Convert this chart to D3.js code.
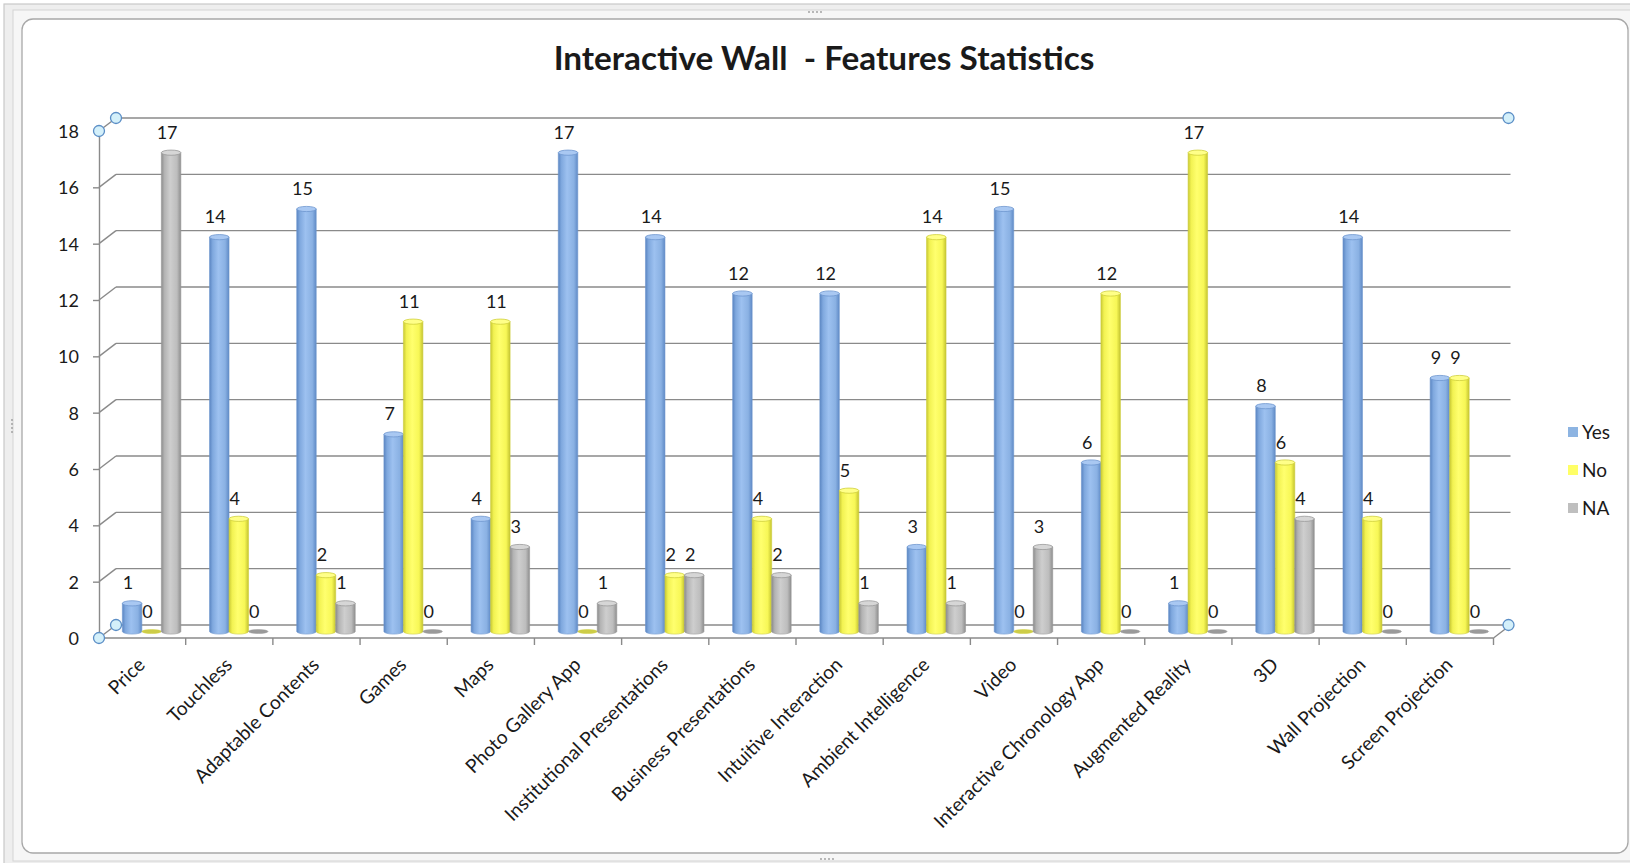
<!DOCTYPE html>
<html>
<head>
<meta charset="utf-8">
<script src="https://cdn.jsdelivr.net/npm/d3@7"></script>
<style>
  html, body { margin: 0; padding: 0; background: #ffffff; }
  svg { display: block; }
  text { font-family: Lato, "Open Sans", sans-serif; fill: #1a1a1a; }
</style>
</head>
<body>
<svg id="chart" width="1630" height="863"></svg>
<script>
// Feature survey results: number of answers per feature
const categories = [
  "Price", "Touchless", "Adaptable Contents", "Games", "Maps", "Photo Gallery App",
  "Institutional Presentations", "Business Presentations", "Intuitive Interaction",
  "Ambient Intelligence", "Video", "Interactive Chronology App", "Augmented Reality",
  "3D", "Wall Projection", "Screen Projection"
];
const yesValues = [1, 14, 15, 7, 4, 17, 14, 12, 12, 3, 15, 6, 1, 8, 14, 9];
const noValues  = [0, 4, 2, 11, 11, 0, 2, 4, 5, 14, 0, 12, 17, 6, 4, 9];
const naValues  = [17, 0, 1, 0, 3, 1, 2, 2, 1, 1, 3, 0, 0, 4, 0, 0];
const seriesNames = ["Yes", "No", "NA"];
const yTicks = [0, 2, 4, 6, 8, 10, 12, 14, 16, 18];
const titleText = "Interactive Wall  - Features Statistics";

const series = [
  { name: "Yes", values: yesValues, id: "blue",
    stops: ["#5a85c2", "#7fa8de", "#9dc1f0", "#8ab1e3", "#5f8ac6"], cap: "#a9c8f2", capStroke: "#6f97cf", flat: "#7199d0", key: "#8db4e2" },
  { name: "No", values: noValues, id: "yellow",
    stops: ["#c9c935", "#f2f252", "#ffff6e", "#f7f756", "#c4c430"], cap: "#ffff88", capStroke: "#cfcf3c", flat: "#cdcd48", key: "#ffff66" },
  { name: "NA", values: naValues, id: "gray",
    stops: ["#8c8c8c", "#b3b3b3", "#cecece", "#bdbdbd", "#8e8e8e"], cap: "#d6d6d6", capStroke: "#999999", flat: "#9a9a9a", key: "#bfbfbf" }
];

const svg = d3.select("#chart");

// ---- chart frame ----
svg.append("rect").attr("x", 4).attr("y", 4).attr("width", 1630).attr("height", 866)
  .attr("fill", "#eeeeee").attr("stroke", "#c9c9c9").attr("stroke-width", 1.2);
svg.append("rect").attr("x", 13).attr("y", 10).attr("width", 1630).attr("height", 851)
  .attr("fill", "#f6f6f6").attr("stroke", "#d4d4d4");
svg.append("rect").attr("x", 22).attr("y", 19).attr("width", 1606).attr("height", 834)
  .attr("rx", 11).attr("fill", "#ffffff").attr("stroke", "#a8a8a8").attr("stroke-width", 1.3);

// grip dots on the frame
function grip(cx, cy, vertical) {
  for (let i = -1.5; i <= 1.5; i++) {
    svg.append("circle")
      .attr("cx", vertical ? cx : cx + i * 4)
      .attr("cy", vertical ? cy + i * 4 : cy)
      .attr("r", 0.9).attr("fill", "#9a9a9a");
  }
}
grip(815, 12, false);
grip(827, 859, false);
grip(12, 426, true);

// ---- scales ----
const depth = { dx: 17, dy: -13 };
const x = d3.scaleBand().domain(categories).range([99.5, 1494.5]);
const groupWidth = 58.5;
const xs = d3.scaleBand().domain(seriesNames).range([0, groupWidth]);
const y = d3.scaleLinear().domain([0, 18]).range([638, 131]);

const axisColor = "#8a8a8a";

// ---- back wall gridlines and side wall connectors ----
const grid = svg.append("g").attr("stroke", axisColor).attr("stroke-width", 1.4).attr("fill", "none");
yTicks.forEach(v => {
  grid.append("line")
    .attr("x1", 99 + depth.dx).attr("x2", x.range()[1] + depth.dx - 1)
    .attr("y1", y(v) + depth.dy).attr("y2", y(v) + depth.dy);
  grid.append("line")
    .attr("x1", 99).attr("x2", 99 + depth.dx)
    .attr("y1", y(v)).attr("y2", y(v) + depth.dy);
});
// floor: front edge and right edge
grid.append("line").attr("x1", 99).attr("x2", x.range()[1] - 1)
  .attr("y1", y(0)).attr("y2", y(0));
grid.append("line").attr("x1", x.range()[1] - 1).attr("x2", x.range()[1] + depth.dx - 1)
  .attr("y1", y(0)).attr("y2", y(0) + depth.dy);

// ---- y axis ----
const yAxis = svg.append("g")
  .attr("transform", "translate(99,0)")
  .call(d3.axisLeft(y).tickValues(yTicks).tickSize(6).tickPadding(14).tickSizeOuter(0));
yAxis.select(".domain").attr("stroke", axisColor).attr("stroke-width", 1.4);
yAxis.selectAll(".tick line").attr("stroke", axisColor).attr("stroke-width", 1.4);
yAxis.selectAll(".tick text")
  .style("font-family", "Lato, sans-serif").style("font-size", "18px").attr("fill", "#1a1a1a")
  .attr("dy", "0.36em");

// ---- x axis: ticks between categories, rotated labels ----
const xAxis = svg.append("g")
  .attr("transform", `translate(0,${y(0)})`)
  .call(d3.axisBottom(x).tickSize(0).tickPadding(0));
xAxis.select(".domain").remove();
xAxis.selectAll(".tick text")
  .style("font-family", "Lato, sans-serif").style("font-size", "19.2px").attr("fill", "#1a1a1a")
  .attr("text-anchor", "end").attr("y", 0).attr("dy", null)
  .attr("transform", "translate(3,28) rotate(-45)");
const boundaries = d3.range(1, categories.length + 1).map(i => x.range()[0] + i * x.step());
svg.append("g").selectAll("line").data(boundaries).join("line")
  .attr("x1", d => d - 1).attr("x2", d => d - 1)
  .attr("y1", y(0)).attr("y2", y(0) + 7)
  .attr("stroke", axisColor).attr("stroke-width", 1.4);

// ---- cylinder gradients ----
const defs = svg.append("defs");
series.forEach(s => {
  const g = defs.append("linearGradient").attr("id", "grad-" + s.id)
    .attr("x1", "0").attr("x2", "1").attr("y1", "0").attr("y2", "0");
  [0, 0.16, 0.45, 0.8, 1].forEach((o, i) =>
    g.append("stop").attr("offset", o).attr("stop-color", s.stops[i]));
});

// ---- bars (cylinders) ----
const barW = xs.bandwidth();
const ry = 2.6;
const groupOffset = (x.bandwidth() - groupWidth) / 2 + depth.dx / 2;
const midDy = depth.dy / 2;

const barData = [];
categories.forEach((c, ci) => {
  series.forEach(s => {
    barData.push({ cat: c, s, value: s.values[ci],
      x0: x(c) + groupOffset + xs(s.name) });
  });
});

const bars = svg.append("g");
barData.forEach(d => {
  const base = y(0) + midDy;
  const top = y(d.value) + midDy;
  const cx = d.x0 + barW / 2;
  const g = bars.append("g");
  if (d.value > 0) {
    g.append("path")
      .attr("d", `M${d.x0},${top} L${d.x0},${base} A${barW / 2},${ry} 0 0 0 ${d.x0 + barW},${base} L${d.x0 + barW},${top} Z`)
      .attr("fill", `url(#grad-${d.s.id})`)
      .attr("stroke", d.s.capStroke).attr("stroke-width", 0.6);
    g.append("ellipse")
      .attr("cx", cx).attr("cy", top).attr("rx", barW / 2).attr("ry", ry)
      .attr("fill", d.s.cap).attr("stroke", d.s.capStroke).attr("stroke-width", 0.8);
  } else {
    g.append("ellipse")
      .attr("cx", cx).attr("cy", base).attr("rx", barW / 2).attr("ry", ry - 0.6)
      .attr("fill", d.s.flat).attr("stroke", d.s.capStroke).attr("stroke-width", 0.5);
  }
});

// ---- value labels ----
svg.append("g").selectAll("text").data(barData).join("text")
  .attr("x", d => d.x0 + barW / 2 - 4)
  .attr("y", d => y(d.value) + midDy - 14)
  .attr("text-anchor", "middle")
  .style("font-size", "18px")
  .text(d => d.value);

// ---- plot area handles ----
const handles = [
  [99, y(18)], [99 + depth.dx, y(18) + depth.dy], [x.range()[1] + depth.dx - 3, y(18) + depth.dy],
  [99, y(0)], [99 + depth.dx, y(0) + depth.dy], [x.range()[1] + depth.dx - 3, y(0) + depth.dy]
];
svg.append("g").selectAll("circle").data(handles).join("circle")
  .attr("cx", d => d[0]).attr("cy", d => d[1]).attr("r", 5.5)
  .attr("fill", "#d4f0fa").attr("stroke", "#5b8ec6").attr("stroke-width", 1.3);

// ---- legend ----
const legend = svg.append("g").attr("transform", "translate(1568,432)");
series.forEach((s, i) => {
  const row = legend.append("g").attr("transform", `translate(0,${i * 38})`);
  row.append("rect").attr("x", 0).attr("y", -5).attr("width", 10).attr("height", 10).attr("fill", s.key);
  row.append("text").attr("x", 14).attr("y", 0).attr("dy", "0.36em")
    .style("font-size", "19px").text(s.name);
});

// ---- title ----
const title = svg.append("text")
  .attr("x", 824).attr("y", 70).attr("text-anchor", "middle")
  .style("font-size", "32px").style("font-weight", "700").attr("fill", "#111")
  .attr("xml:space", "preserve")
  .text(titleText);
const tw = title.node().getComputedTextLength();
title.style("font-size", (32 * 541 / tw).toFixed(2) + "px");
</script>
</body>
</html>
